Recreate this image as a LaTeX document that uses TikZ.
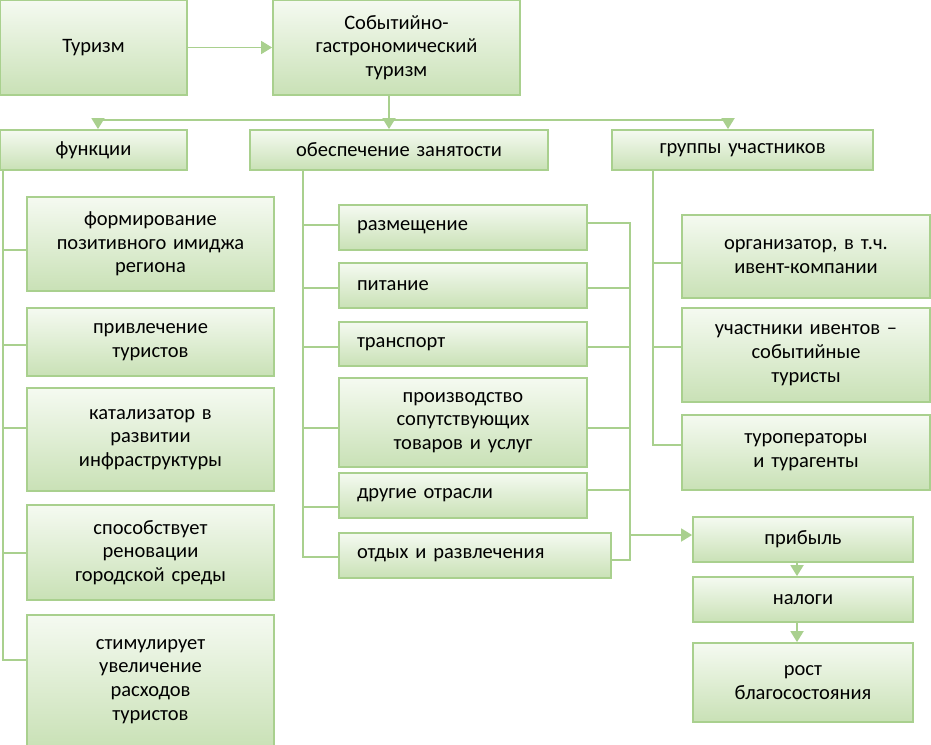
\documentclass[tikz,border=0pt]{standalone}
\usepackage{fontspec}
\setmainfont{Carlito}[WordSpace=0.8]
\usetikzlibrary{arrows.meta}
\definecolor{lnc}{HTML}{A9D08E}
\definecolor{topc}{HTML}{F5FAF1}
\definecolor{botc}{HTML}{C9E1B6}
\tikzset{
  box/.style={draw=lnc, line width=1.8pt, top color=topc, bottom color=botc,
    font=\fontsize{20.5}{23.7}\selectfont, inner xsep=4pt, inner ysep=2pt},
  conn/.style={draw=lnc, line width=1.8pt},
  arr/.style={conn, -{Triangle[length=11pt,width=13pt]}},
}
% centred box: name, x1, y1, x2, y2, text
\newcommand{\cbx}[6]{\node[box, minimum width={(#4-#2)*1pt}, minimum height={(#5-#3)*1pt},
  text width={(#4-#2-16)*1pt}, align=center] (#1) at ({(#2+#4)/2},{(#3+#5)/2}) {#6};}
% left-aligned box
\newcommand{\lbx}[6]{\node[box, minimum width={(#4-#2)*1pt}, minimum height={(#5-#3)*1pt},
  text width={(#4-#2-36)*1pt}, align=left] (#1) at ({(#2+#4)/2},{(#3+#5)/2}) {#6};}
\begin{document}
\begin{tikzpicture}[x=1pt,y=-1pt]
\useasboundingbox (0,0) rectangle (931,744);
% top
\cbx{tur}{0}{0}{187}{95}{Туризм}
\cbx{sgt}{273}{0}{520}{95}{Событийно-\\гастрономический\\туризм}
\cbx{fun}{0}{130}{187}{170}{функции}
\cbx{emp}{250}{130}{548}{170}{обеспечение занятости}
\cbx{grp}{612}{130}{873}{170}{группы участников}
% functions
\cbx{f1}{27}{197}{274}{291}{формирование\\позитивного имиджа\\региона}
\cbx{f2}{27}{308}{274}{376}{привлечение\\туристов}
\cbx{f3}{27}{388}{274}{491}{катализатор в\\развитии\\инфраструктуры}
\cbx{f4}{27}{505}{274}{600}{способствует\\реновации\\городской среды}
\cbx{f5}{27}{615}{274}{748}{стимулирует\\увеличение\\расходов\\туристов}
% employment
\lbx{e1}{339}{205}{587}{250}{размещение}
\lbx{e2}{339}{263}{587}{308}{питание}
\lbx{e3}{339}{322}{587}{366}{транспорт}
\cbx{e4}{339}{378}{587}{467}{производство\\сопутствующих\\товаров и услуг}
\lbx{e5}{339}{473}{587}{518}{другие отрасли}
\lbx{e6}{339}{533}{611}{578}{отдых и развлечения}
% groups
\cbx{g1}{682}{215}{930}{298}{организатор, в т.ч.\\ивент-компании}
\cbx{g2}{682}{308}{930}{402}{участники ивентов –\\событийные\\туристы}
\cbx{g3}{682}{415}{930}{490}{туроператоры\\и турагенты}
% results
\cbx{p1}{693}{517}{913}{562}{прибыль}
\cbx{p2}{693}{577}{913}{622}{налоги}
\cbx{p3}{693}{643}{913}{722}{рост\\благосостояния}

% connectors top
\draw[arr] (tur) -- (sgt);
\coordinate (hub) at (389,120);
\coordinate (hl) at (98,120);
\coordinate (hr) at (728,120);
\draw[conn] (sgt.south -| hub) -- (hub);
\draw[arr] (hub) -- (emp.north -| hub);
\draw[conn] (hl) -- (hr);
\draw[arr] (hl) -- (fun.north -| hl);
\draw[arr] (hr) -- (grp.north -| hr);

% functions tree
\coordinate (fv) at (3,660);
\draw[conn] (fun.south -| fv) -- (fv) -- (f5.west |- fv);
\foreach \n/\y in {f1/250,f2/345,f3/428,f4/553}
  \draw[conn] (3,\y) -- (\n.west |- 3,\y);

% employment tree
\coordinate (ev) at (303,557);
\draw[conn] (emp.south -| ev) -- (ev) -- (e6.west |- ev);
\foreach \n/\y in {e1/225,e2/288,e3/347,e4/428,e5/507}
  \draw[conn] (303,\y) -- (\n.west |- 303,\y);
\coordinate (rt) at (630,223);
\coordinate (rb) at (630,560);
\draw[conn] (e1.east |- rt) -- (rt) -- (rb) -- (e6.east |- rb);
\foreach \n/\y in {e2/288,e3/347,e4/428,e5/490}
  \draw[conn] (\n.east |- 630,\y) -- (630,\y);
\coordinate (ra) at (630,535);
\draw[arr] (ra) -- (p1.west |- ra);

% groups tree
\coordinate (gv) at (653,445);
\draw[conn] (grp.south -| gv) -- (gv) -- (g3.west |- gv);
\foreach \n/\y in {g1/263,g2/347}
  \draw[conn] (653,\y) -- (\n.west |- 653,\y);

% results chain
\draw[arr] (p1.south -| 797,0) -- (p2.north -| 797,0);
\draw[arr] (p2.south -| 797,0) -- (p3.north -| 797,0);
\end{tikzpicture}
\end{document}
